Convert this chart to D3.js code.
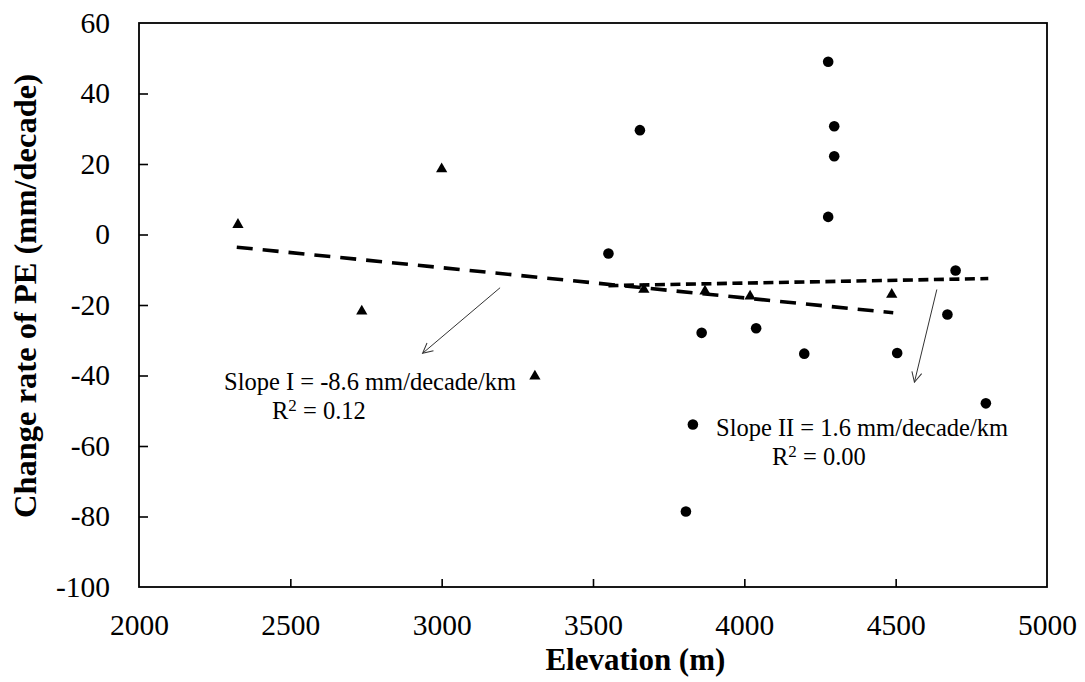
<!DOCTYPE html>
<html>
<head>
<meta charset="utf-8">
<script src="https://cdn.jsdelivr.net/npm/d3@7"></script>
<style>
  body { margin: 0; background: #fff; }
  svg text { font-family: "Liberation Serif", "Times New Roman", serif; fill: #000; }
  .axis path { display: none; }
  .axis line { stroke: #000; stroke-width: 1.6; }
  .title { font-weight: bold; }
  .note { font-size: 24.5px; }
</style>
</head>
<body>
<div id="chart"></div>
<script>
// tick labels
var xTicks = [2000, 2500, 3000, 3500, 4000, 4500, 5000];
var yTicks = [-100, -80, -60, -40, -20, 0, 20, 40, 60];

// group I (triangles)
var triElev = [2327, 2736, 3000, 3308, 3668, 3870, 4019, 4487];
var triRate = [2.8, -21.8, 18.6, -40.2, -15.6, -16.1, -17.5, -17.0];

// group II (circles)
var cirElev = [3551, 3655, 3807, 3830, 3859, 4039, 4198, 4277, 4277, 4297, 4297, 4505, 4671, 4698, 4798];
var cirRate = [-5.4, 29.6, -78.6, -53.9, -27.9, -26.6, -33.8, 49.0, 5.0, 30.7, 22.2, -33.6, -22.7, -10.2, -47.9];

// fitted lines (end points)
var fitIElev = [2323, 4492];
var fitIRate = [-3.6, -22.2];
var fitIIElev = [3551, 4806];
var fitIIRate = [-14.5, -12.5];

// arrows pointing from the fitted lines to the labels
var arrowIElev = [3193, 2937];
var arrowIRate = [-15.1, -33.7];
var arrowIIElev = [4636, 4562];
var arrowIIRate = [-15.6, -41.9];

var width = 1085, height = 682;
var margin = {top: 23, right: 38, bottom: 95, left: 139};
var plotW = width - margin.left - margin.right,
    plotH = height - margin.top - margin.bottom;

var svg = d3.select("#chart").append("svg")
    .attr("width", width)
    .attr("height", height);

svg.append("rect")
    .attr("width", width)
    .attr("height", height)
    .attr("fill", "#fff");

var g = svg.append("g")
    .attr("transform", "translate(" + margin.left + "," + margin.top + ")");

var x = d3.scaleLinear().domain([2000, 5000]).range([0, plotW]);
var y = d3.scaleLinear().domain([-100, 60]).range([plotH, 0]);

// axes, ticks point inward
var xAxis = g.append("g")
    .attr("class", "axis")
    .attr("transform", "translate(0," + plotH + ")")
    .call(d3.axisBottom(x).tickValues(xTicks).tickSizeInner(-8).tickSizeOuter(0).tickPadding(27)
      .tickFormat(function(d) { return String(d); }));

var yAxis = g.append("g")
    .attr("class", "axis")
    .call(d3.axisLeft(y).tickValues(yTicks).tickSizeInner(-9).tickSizeOuter(0).tickPadding(29)
      .tickFormat(function(d) { return String(d); }));

[xAxis, yAxis].forEach(function(a) {
  a.attr("font-family", "Liberation Serif, serif").attr("font-size", 29.5);
  a.selectAll("text")
      .style("font-family", "'Liberation Serif', serif")
      .style("font-size", "29.5px");
});

// hide the ticks sitting on the frame corners
g.selectAll(".axis .tick line").filter(function(d) {
  return d === 2000 || d === 5000 || d === -100 || d === 60;
}).remove();

g.append("rect")
    .attr("width", plotW)
    .attr("height", plotH)
    .attr("fill", "none")
    .attr("stroke", "#000")
    .attr("stroke-width", 1.8);

// markers
var triData = triElev.map(function(v, i) { return {x: v, y: triRate[i]}; });
var cirData = cirElev.map(function(v, i) { return {x: v, y: cirRate[i]}; });

g.selectAll(".tri")
    .data(triData)
    .enter().append("path")
    .attr("class", "tri")
    .attr("d", d3.symbol().type(d3.symbolTriangle).size(55))
    .attr("transform", function(d) { return "translate(" + x(d.x) + "," + y(d.y) + ")"; })
    .attr("fill", "#000");

g.selectAll(".cir")
    .data(cirData)
    .enter().append("circle")
    .attr("class", "cir")
    .attr("cx", function(d) { return x(d.x); })
    .attr("cy", function(d) { return y(d.y); })
    .attr("r", 5.3)
    .attr("fill", "#000");

// fitted lines
var line = d3.line()
    .x(function(d) { return x(d.x); })
    .y(function(d) { return y(d.y); });

g.append("path")
    .datum(fitIElev.map(function(v, i) { return {x: v, y: fitIRate[i]}; }))
    .attr("d", line)
    .attr("fill", "none")
    .attr("stroke", "#000")
    .attr("stroke-width", 3.6)
    .attr("stroke-dasharray", "16 10");

g.append("path")
    .datum(fitIIElev.map(function(v, i) { return {x: v, y: fitIIRate[i]}; }))
    .attr("d", line)
    .attr("fill", "none")
    .attr("stroke", "#000")
    .attr("stroke-width", 3.6)
    .attr("stroke-dasharray", "10 5.5");

// arrows
svg.append("defs").append("marker")
    .attr("id", "arrow")
    .attr("viewBox", "0 0 12 12")
    .attr("refX", 11)
    .attr("refY", 6)
    .attr("markerWidth", 12)
    .attr("markerHeight", 12)
    .attr("markerUnits", "userSpaceOnUse")
    .attr("orient", "auto")
  .append("path")
    .attr("d", "M1,1 L11,6 L1,11")
    .attr("fill", "none")
    .attr("stroke", "#333")
    .attr("stroke-width", 1);

[[arrowIElev, arrowIRate], [arrowIIElev, arrowIIRate]].forEach(function(a) {
  g.append("line")
      .attr("x1", x(a[0][0]))
      .attr("y1", y(a[1][0]))
      .attr("x2", x(a[0][1]))
      .attr("y2", y(a[1][1]))
      .attr("stroke", "#333")
      .attr("stroke-width", 1)
      .attr("marker-end", "url(#arrow)");
});

// annotations
function addNote(px, py, txt) {
  return svg.append("text")
      .attr("class", "note")
      .attr("x", px)
      .attr("y", py)
      .text(txt);
}

function addR2(px, py, val) {
  var t = svg.append("text")
      .attr("class", "note")
      .attr("x", px)
      .attr("y", py);
  t.append("tspan").text("R");
  t.append("tspan").attr("dy", -8).attr("font-size", "17px").text("2");
  t.append("tspan").attr("dy", 8).text(" = " + val);
}

addNote(224, 390, "Slope I = -8.6 mm/decade/km");
addR2(272, 419, "0.12");
addNote(716, 436, "Slope II = 1.6 mm/decade/km");
addR2(772, 465, "0.00");

// axis titles
svg.append("text")
    .attr("class", "title")
    .attr("x", margin.left + x(3640))
    .attr("y", 670)
    .attr("text-anchor", "middle")
    .attr("font-size", "31px")
    .text("Elevation (m)");

svg.append("text")
    .attr("class", "title")
    .attr("transform", "translate(36,296) rotate(-90)")
    .attr("text-anchor", "middle")
    .attr("font-size", "32.5px")
    .text("Change rate of PE (mm/decade)");
</script>
</body>
</html>
